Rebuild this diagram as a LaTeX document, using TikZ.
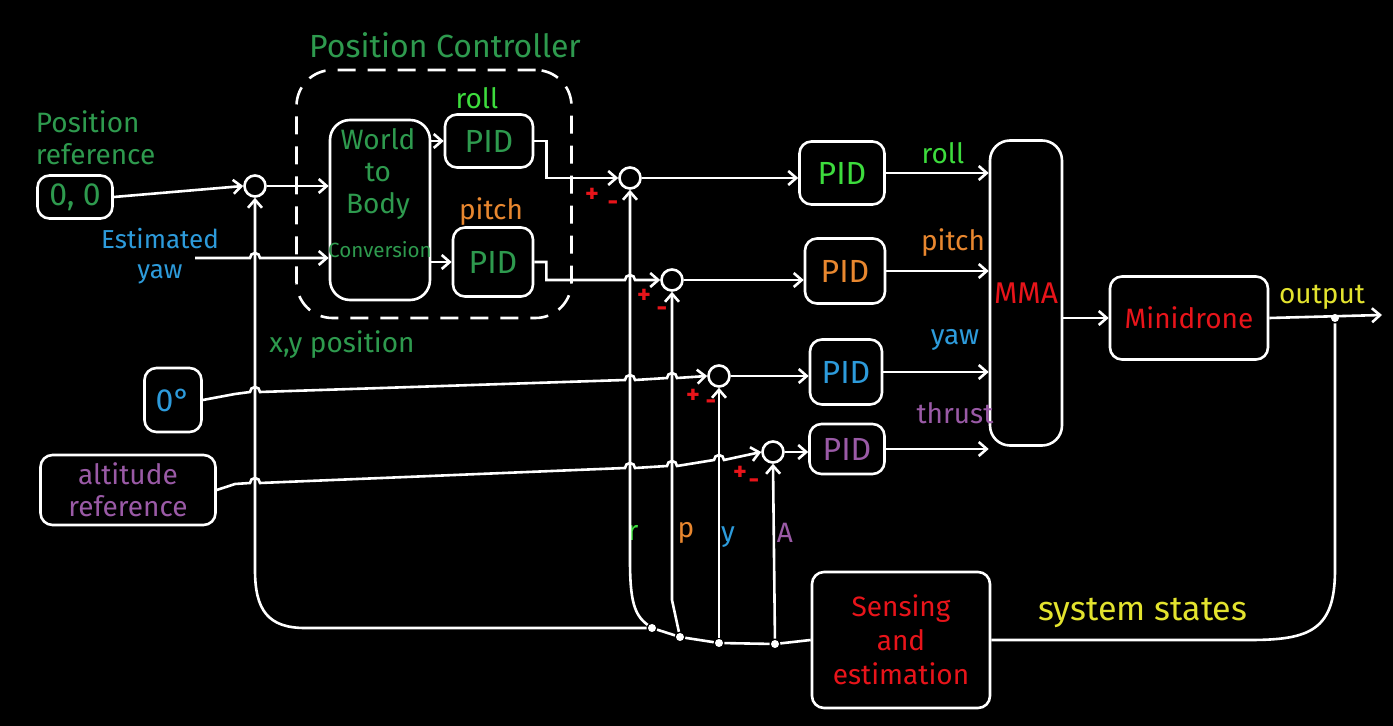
\documentclass[tikz,border=0pt]{standalone}
\usepackage{fontspec}
\setmainfont{Fira Sans}
\usetikzlibrary{arrows.meta,positioning}
\definecolor{posgreen}{HTML}{2E9A4E}
\definecolor{rollgreen}{HTML}{3DDC3D}
\definecolor{pitchorange}{HTML}{E8872F}
\definecolor{yawblue}{HTML}{2D9BDB}
\definecolor{thrustpurple}{HTML}{9A5AA6}
\definecolor{sysred}{HTML}{E8141A}
\definecolor{outyellow}{HTML}{E3E32E}
\newcommand{\hop}[2]{-- ({#1-5},#2) arc[start angle=180,end angle=0,radius=2.5pt]}
\begin{document}
\begin{tikzpicture}[x=0.5pt,y=-0.5pt,line width=1.3pt,white,
	font=\fontsize{14}{16}\selectfont,
	blk/.style={draw=white,rounded corners=6pt,inner sep=0pt},
	pidtxt/.style={font=\fontsize{16}{18}\selectfont},
	sumc/.style={circle,draw=white,minimum size=10.5pt,inner sep=0pt},
	sig/.style={-{Straight Barb[length=4pt,width=7pt]}},
	dot/.style={circle,fill=white,inner sep=0pt,minimum size=4pt},
	pm/.style={text=sysred,font=\fontsize{13}{13}\bfseries}]
	\fill[black](0,0)rectangle(1393,726);
	% blocks
	\node[blk,text=posgreen,minimum width=37.5pt,minimum height=21.5pt,pidtxt](ref)at(75,197){0, 0};
	\node[sumc](sum1)at(255,186){};
	\node[draw,dashed,dash pattern=on 9pt off 6pt,rounded corners=18pt,minimum width=137.5pt,minimum height=124pt](posbox)at(434,194){};
	\node[blk,rounded corners=10pt,minimum width=50pt,minimum height=90pt](wtb)at(380,210){};
	\node[text=posgreen,align=center](wtbtxt)at(378,174){World\\to\\Body};
	\node[text=posgreen,font=\fontsize{10.3}{12}\selectfont](conv)at(380,250){Conversion};
	\node[blk,pidtxt,text=posgreen,minimum width=44pt,minimum height=26.5pt](pidr1)at(489,141){PID};
	\node[blk,pidtxt,text=posgreen,minimum width=40pt,minimum height=34.5pt](pidp1)at(493,262){PID};
	\foreach \n/\x/\y in {sumr/630/178,sump/672/280,sumy/719/376,suma/773/452}{
		\node[sumc](\n)at(\x,\y){};
	}
	\node[blk,pidtxt,text=rollgreen,minimum width=42.5pt,minimum height=31.5pt](pidr)at(842,173){PID};
	\node[blk,pidtxt,text=pitchorange,minimum width=40pt,minimum height=32.5pt](pidp)at(845,271){PID};
	\node[blk,pidtxt,text=yawblue,minimum width=36pt,minimum height=32.5pt](pidy)at(846,372){PID};
	\node[blk,pidtxt,text=thrustpurple,minimum width=37.5pt,minimum height=25pt](pida)at(847,449){PID};
	\node[blk,text=sysred,font=\fontsize{15}{17}\selectfont,rounded corners=10pt,minimum width=36pt,minimum height=152.5pt](mma)at(1026,293){MMA};
	\node[blk,text=sysred,minimum width=79pt,minimum height=41.5pt](drone)at(1189,318){Minidrone};
	\node[blk,text=sysred,align=center,font=\fontsize{14}{17}\selectfont,minimum width=89pt,minimum height=68pt](sense)at(901,640){Sensing\\and\\estimation};
	\node[blk,pidtxt,text=yawblue,minimum width=28.5pt,minimum height=32pt](zero)at(173,400){0°};
	\node[blk,text=thrustpurple,align=center,minimum width=87.5pt,minimum height=35pt](alt)at(128,490){altitude\\reference};
	% labels
	\node[text=posgreen,pidtxt](ptitle)at(445,45){Position Controller};
	\node[text=posgreen,align=left,anchor=west](preflbl)at(28,138){Position\\reference};
	\node[text=yawblue,align=center,font=\fontsize{13}{15}\selectfont](yawlbl)at(160,256){Estimated\\yaw};
	\node[text=posgreen](xylbl)at(342,345){x,y position};
	\node[text=rollgreen](rolllbl1)at(477,98){roll};
	\node[text=pitchorange](pitchlbl1)at(491,212){pitch};
	\node[text=rollgreen](rolllbl)at(943,153){roll};
	\node[text=pitchorange](pitchlbl)at(953,243){pitch};
	\node[text=yawblue](yawlbl2)at(955,340){yaw};
	\node[text=thrustpurple](thrustlbl)at(955,413){thrust};
	\node[text=outyellow](outlbl)at(1322,297){output};
	\node[text=outyellow,font=\fontsize{17}{19}\selectfont](statelbl)at(1143,613){system states};
	\node[text=rollgreen](rlbl)at(633,533){r};
	\node[text=pitchorange](plbl)at(686,533){p};
	\node[text=yawblue](ylbl)at(728,537){y};
	\node[text=thrustpurple](albl)at(785,533){A};
	\foreach \s/\px/\py/\mx/\my in {r/592/195/613/206,p/644/296/662/312,y/693/396/711/405,a/740/473/754/484}{
		\node[pm](plus\s)at(\px,\py){+};
		\node[pm](minus\s)at(\mx,\my){-};
	}
	% feedback taps
	\coordinate(yawin)at(195,258);
	\coordinate(out)at(1382,315);
	\node[dot](outdot)at(1335,318){};
	\node[dot](rdot)at(652,628){};
	\node[dot](pdot)at(680,637){};
	\node[dot](ydot)at(719,643){};
	\node[dot](adot)at(775,644){};
	% signals
	\draw[sig](ref.east)--(sum1.west);
	\draw[sig](sum1.east)--(sum1.east-|wtb.west);
	\draw[sig](yawin)\hop{255}{258}--(wtb.west|-yawin);
	\draw[sig](wtb.east|-pidr1.west)--(pidr1.west);
	\draw[sig](wtb.east|-pidp1.west)--(pidp1.west);
	\draw[sig](pidr1.east)--++(12,0)|-(sumr.west);
	\draw[sig](pidp1.east)--++(12,0)--++(0,18)\hop{630}{280}--(sump.west);
	\draw[sig](zero.east)--(235,394)\hop{255}{392}\hop{630}{380}\hop{672}{378}--(sumy.west);
	\draw[sig](alt.east)--(235,484)\hop{255}{483}\hop{630}{468}\hop{672}{466}\hop{719}{460}--(suma.west);
	\foreach \s/\p in {sumr/pidr,sump/pidp,sumy/pidy,suma/pida}{
		\draw[sig](\s.east)--(\s.east-|\p.west);
		\draw[sig](\p.east)--(\p.east-|mma.west);
	}
	\draw[sig](mma.east|-drone.west)--(drone.west);
	\draw[sig](drone.east)--(out);
	\draw(outdot)--(1335,570)..controls(1335,630)and(1310,640)..(1250,640)--(sense.east);
	\draw[sig](sense.west)--(adot)--(ydot)--(pdot)--(rdot)--(305,628)..controls(268,628)and(255,610)..(255,570)--(sum1.south);
	\draw[sig](rdot)..controls(634,615)and(630,600)..(630,560)--(sumr.south);
	\draw[sig](pdot)--(672,600)--(sump.south);
	\draw[sig](ydot)--(sumy.south);
	\draw[sig](adot)--(suma.south);
\end{tikzpicture}
\end{document}
